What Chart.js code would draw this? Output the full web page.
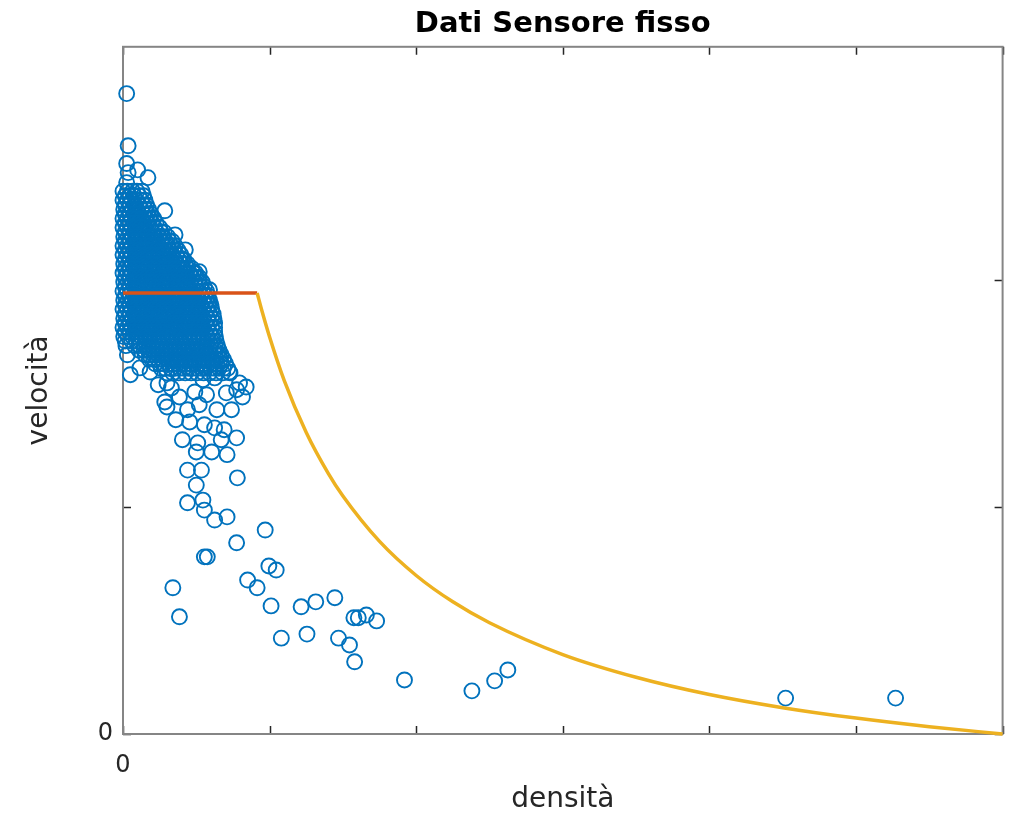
<!DOCTYPE html>
<html>
<head>
<meta charset="utf-8">
<script src="https://cdn.jsdelivr.net/npm/chart.js@4"></script>
<style>
  html, body { margin: 0; padding: 0; background: #fff; overflow: hidden; }
  canvas { display: block; }
</style>
</head>
<body>
<canvas id="chart" width="1012" height="821"></canvas>
<script>
// Axis ticks (only the 0 labels are printed, like the original figure)
const xTicks = [0, 20, 40, 60, 80, 100, 120];
const yTicks = [0, 50, 100];
const yMax = 151.3;

// Dense cloud of measurements, one row per speed level
const blobSpeed = [119.5, 118.5, 117.5, 116.5, 115.5, 114.5, 113.5, 112.5, 111.5, 110.5,
  109.5, 108.5, 107.5, 106.5, 105.5, 104.5, 103.5, 102.5, 101.5, 100.5,
  99.5, 98.5, 97.5, 96.5, 95.5, 94.5, 93.5, 92.5, 91.5, 90.5,
  89.5, 88.5, 87.5, 86.5, 85.5, 84.5, 83.5, 82.5, 81.5, 80.5, 79.5];
const blobDensity = [
  [0.0, 0.6, 1.3, 1.9, 2.6],
  [0.3, 0.9, 1.5, 2.2, 2.8],
  [0.0, 0.6, 1.2, 1.8, 2.5, 3.0],
  [0.3, 0.9, 1.6, 2.2, 2.8, 3.2],
  [0.1, 0.7, 1.3, 1.9, 2.5, 3.1, 3.5],
  [0.3, 0.9, 1.5, 2.1, 2.8, 3.4, 3.8],
  [0.0, 0.6, 1.2, 1.9, 2.5, 3.1, 3.7, 4.2],
  [0.3, 0.9, 1.5, 2.1, 2.7, 3.3, 4.0, 4.5],
  [0.0, 0.6, 1.2, 1.8, 2.4, 3.0, 3.7, 4.3, 5.0],
  [0.3, 0.9, 1.5, 2.2, 2.8, 3.4, 4.0, 4.6, 5.2, 5.6],
  [0.1, 0.7, 1.3, 1.9, 2.5, 3.1, 3.7, 4.3, 4.9, 5.5, 6.1],
  [0.3, 0.9, 1.6, 2.2, 2.8, 3.4, 4.0, 4.6, 5.2, 5.8, 6.3, 6.7],
  [0.0, 0.6, 1.2, 1.8, 2.4, 3.1, 3.7, 4.3, 4.9, 5.5, 6.1, 6.6, 7.1],
  [0.3, 0.9, 1.5, 2.1, 2.7, 3.3, 3.9, 4.6, 5.2, 5.8, 6.4, 7.0, 7.5],
  [0.0, 0.6, 1.2, 1.8, 2.5, 3.1, 3.7, 4.3, 4.9, 5.5, 6.1, 6.7, 7.3, 7.9],
  [0.3, 0.9, 1.5, 2.1, 2.7, 3.3, 4.0, 4.6, 5.2, 5.8, 6.4, 7.0, 7.6, 8.0, 8.3],
  [0.1, 0.7, 1.3, 1.9, 2.5, 3.1, 3.7, 4.3, 4.9, 5.5, 6.2, 6.8, 7.4, 8.0, 8.5, 8.8],
  [0.3, 0.9, 1.5, 2.2, 2.8, 3.4, 4.0, 4.6, 5.2, 5.8, 6.4, 7.0, 7.6, 8.2, 8.8, 9.4],
  [0.0, 0.6, 1.2, 1.8, 2.4, 3.0, 3.7, 4.3, 4.9, 5.5, 6.1, 6.7, 7.3, 7.9, 8.5, 9.1, 9.6, 9.9],
  [0.3, 0.9, 1.5, 2.1, 2.7, 3.3, 3.9, 4.5, 5.2, 5.8, 6.4, 7.0, 7.6, 8.2, 8.8, 9.4, 10.0, 10.4],
  [0.1, 0.7, 1.3, 1.9, 2.5, 3.1, 3.7, 4.3, 4.9, 5.5, 6.1, 6.7, 7.4, 8.0, 8.6, 9.2, 9.8, 10.4, 10.8],
  [0.3, 0.9, 1.5, 2.1, 2.7, 3.4, 4.0, 4.6, 5.2, 5.8, 6.4, 7.0, 7.6, 8.2, 8.8, 9.4, 10.0, 10.6, 11.1],
  [0.0, 0.6, 1.2, 1.8, 2.4, 3.0, 3.6, 4.2, 4.9, 5.5, 6.1, 6.7, 7.3, 7.9, 8.5, 9.1, 9.7, 10.3, 10.9, 11.4],
  [0.3, 0.9, 1.5, 2.1, 2.7, 3.3, 3.9, 4.5, 5.1, 5.7, 6.4, 7.0, 7.6, 8.2, 8.8, 9.4, 10.0, 10.6, 11.2, 11.6],
  [0.1, 0.7, 1.3, 1.9, 2.5, 3.1, 3.7, 4.3, 4.9, 5.5, 6.1, 6.7, 7.3, 7.9, 8.5, 9.2, 9.8, 10.4, 11.0, 11.5, 11.8],
  [0.3, 0.9, 1.5, 2.1, 2.7, 3.3, 3.9, 4.6, 5.2, 5.8, 6.4, 7.0, 7.6, 8.2, 8.8, 9.4, 10.0, 10.6, 11.2, 11.7, 12.0],
  [0.0, 0.6, 1.2, 1.8, 2.4, 3.0, 3.6, 4.2, 4.8, 5.4, 6.1, 6.7, 7.3, 7.9, 8.5, 9.1, 9.7, 10.3, 10.9, 11.5, 12.1],
  [0.3, 0.9, 1.5, 2.1, 2.7, 3.3, 3.9, 4.5, 5.1, 5.7, 6.3, 6.9, 7.6, 8.2, 8.8, 9.4, 10.0, 10.6, 11.2, 11.8, 12.3],
  [0.1, 0.7, 1.3, 1.9, 2.5, 3.1, 3.7, 4.3, 4.9, 5.5, 6.1, 6.7, 7.3, 7.9, 8.5, 9.1, 9.7, 10.4, 11.0, 11.6, 12.1, 12.4],
  [0.3, 0.9, 1.5, 2.1, 2.7, 3.3, 3.9, 4.5, 5.1, 5.8, 6.4, 7.0, 7.6, 8.2, 8.8, 9.4, 10.0, 10.6, 11.2, 11.8, 12.5],
  [0.0, 0.6, 1.2, 1.8, 2.4, 3.0, 3.6, 4.2, 4.8, 5.4, 6.0, 6.6, 7.2, 7.9, 8.5, 9.1, 9.7, 10.3, 10.9, 11.5, 12.1, 12.5],
  [0.3, 0.9, 1.5, 2.1, 2.7, 3.3, 3.9, 4.5, 5.1, 5.7, 6.3, 6.9, 7.5, 8.1, 8.7, 9.3, 10.0, 10.6, 11.2, 11.8, 12.5],
  [0.1, 0.7, 1.3, 1.9, 2.5, 3.1, 3.7, 4.3, 4.9, 5.5, 6.1, 6.7, 7.3, 7.9, 8.5, 9.1, 9.7, 10.3, 10.9, 11.5, 12.1, 12.6],
  [0.3, 1.2, 1.8, 2.4, 3.0, 3.6, 4.2, 4.8, 5.4, 6.1, 6.7, 7.3, 7.9, 8.5, 9.1, 9.7, 10.3, 10.9, 11.5, 12.1, 12.7],
  [0.4, 1.6, 2.3, 2.9, 3.5, 4.1, 4.7, 5.3, 5.9, 6.5, 7.1, 7.7, 8.3, 8.9, 9.5, 10.2, 10.8, 11.4, 12.0, 12.6, 12.9],
  [2.2, 2.9, 3.5, 4.1, 4.7, 5.3, 5.9, 6.5, 7.1, 7.7, 8.3, 8.9, 9.5, 10.1, 10.7, 11.3, 11.9, 12.5, 13.1],
  [0.6, 3.0, 3.6, 4.2, 4.8, 5.4, 6.0, 6.6, 7.2, 7.8, 8.4, 9.0, 9.6, 10.2, 10.8, 11.4, 12.0, 12.6, 13.1, 13.4],
  [3.6, 4.2, 4.8, 5.4, 6.0, 6.6, 7.3, 7.9, 8.5, 9.1, 9.7, 10.3, 10.9, 11.5, 12.1, 12.7, 13.3, 13.7],
  [4.4, 5.0, 5.6, 6.2, 6.8, 7.4, 8.0, 8.6, 9.2, 9.8, 10.4, 11.0, 11.6, 12.2, 12.8, 13.4, 14.0],
  [5.2, 5.8, 6.5, 7.1, 7.7, 8.3, 8.9, 9.5, 10.1, 10.7, 11.3, 11.9, 12.5, 13.1, 13.7, 14.3],
  [6.0, 6.8, 7.6, 8.5, 9.3, 10.1, 11.0, 11.8, 12.7, 13.6, 14.6]
];

// Scattered measurements outside the cloud
const outDensity = [0.5, 0.7, 0.5, 0.7, 2.0, 3.4, 0.5, 5.7, 5.4, 7.1, 8.5, 10.4, 11.8,
  1.0, 2.3, 3.7, 4.8, 6.0, 6.6, 9.8, 11.4, 10.9, 12.5, 14.1, 14.5, 15.9,
  5.7, 6.0, 7.7, 8.8, 9.1, 8.1, 10.2, 10.0, 8.8, 10.7, 10.0, 8.8, 10.9, 11.1, 12.5, 14.2,
  15.5, 15.6, 11.5, 11.1, 6.8, 7.7, 16.3, 15.5, 16.8, 12.8, 14.8, 12.5, 13.4, 15.5, 13.8,
  10.4, 7.2, 11.1, 12.1, 14.2, 19.4, 19.9, 20.9, 17.0, 18.3, 20.2, 24.3, 26.3, 28.9,
  21.6, 25.1, 29.4, 30.9, 31.5, 32.1, 33.2, 34.6, 31.6, 38.4, 47.6, 50.7, 52.5, 90.4, 105.4];
const outSpeed = [141.0, 129.5, 125.6, 123.6, 124.2, 122.5, 121.4, 115.2, 109.3, 109.9, 106.6, 101.8, 97.8,
  79.1, 80.6, 79.7, 76.9, 77.3, 76.2, 75.3, 74.7, 78.0, 78.4, 75.1, 79.7, 77.3,
  73.1, 72.0, 74.2, 71.4, 68.7, 64.8, 64.1, 62.1, 58.1, 58.1, 54.8, 50.9, 51.5, 49.3, 47.1, 47.8,
  42.1, 56.4, 39.0, 39.0, 32.2, 25.8, 74.2, 75.8, 76.4, 71.4, 71.4, 67.4, 64.8, 65.2, 67.0,
  72.5, 69.2, 68.1, 62.1, 61.5, 44.9, 37.0, 36.1, 33.9, 32.2, 28.2, 28.0, 29.1, 30.0,
  21.1, 22.0, 21.1, 19.6, 25.6, 25.6, 26.2, 24.9, 15.9, 11.9, 9.5, 11.7, 14.1, 7.9, 7.9];

// Model: free-flow branch and congested branch
const flatDensity = [0, 18.3];
const flatSpeed = [97.1, 97.1];
const curveDensity = [18.3, 19, 20, 22, 25, 28, 30, 35, 40, 45, 50, 60, 70, 80, 90, 100, 110, 120];
const curveSpeed = [97.1, 92.9, 87.4, 77.8, 66.4, 57.4, 52.4, 42.4, 34.9, 29.1, 24.5, 17.5, 12.5, 8.7, 5.8, 3.5, 1.6, 0];

const scatterPoints = [];
blobSpeed.forEach((v, i) => {
  blobDensity[i].forEach(d => scatterPoints.push({ x: d, y: v }));
});
outDensity.forEach((d, i) => scatterPoints.push({ x: d, y: outSpeed[i] }));

const toXY = (xs, ys) => xs.map((x, i) => ({ x: x, y: ys[i] }));

// MATLAB style box with inward ticks on all four sides
const boxPlugin = {
  id: 'box',
  beforeDatasetsDraw(chart) {
    const { ctx, chartArea: a, scales: { x, y } } = chart;
    const len = 8;
    ctx.save();
    ctx.strokeStyle = '#262626';
    ctx.lineWidth = 1.5;
    ctx.beginPath();
    x.ticks.forEach(t => {
      const px = Math.round(x.getPixelForValue(t.value)) + 0.5;
      ctx.moveTo(px, a.bottom); ctx.lineTo(px, a.bottom - len);
      ctx.moveTo(px, a.top); ctx.lineTo(px, a.top + len);
    });
    y.ticks.forEach(t => {
      const py = Math.round(y.getPixelForValue(t.value)) + 0.5;
      ctx.moveTo(a.left, py); ctx.lineTo(a.left + len, py);
      ctx.moveTo(a.right, py); ctx.lineTo(a.right - len, py);
    });
    ctx.stroke();
    ctx.strokeStyle = '#858585';
    ctx.lineWidth = 2;
    ctx.strokeRect(a.left, a.top, a.right - a.left, a.bottom - a.top);
    ctx.restore();
  }
};

const labelFont = { family: 'DejaVu Sans', size: 28 };
const tickFont = { family: 'DejaVu Sans', size: 24 };

new Chart(document.getElementById('chart'), {
  type: 'scatter',
  data: {
    datasets: [
      {
        data: scatterPoints,
        pointStyle: 'circle',
        pointRadius: 7.5,
        pointBorderWidth: 1.9,
        borderColor: '#0072BD',
        backgroundColor: 'rgba(0,0,0,0)',
        showLine: false,
        clip: false,
        order: 3
      },
      {
        data: toXY(flatDensity, flatSpeed),
        showLine: true,
        borderColor: '#D95319',
        borderWidth: 3.5,
        pointRadius: 0,
        order: 2
      },
      {
        data: toXY(curveDensity, curveSpeed),
        showLine: true,
        borderColor: '#EDB120',
        borderWidth: 3.5,
        pointRadius: 0,
        cubicInterpolationMode: 'monotone',
        clip: false,
        order: 1
      }
    ]
  },
  options: {
    responsive: false,
    animation: false,
    devicePixelRatio: 1,
    layout: { padding: { left: 0, right: 4, top: 0, bottom: 0 } },
    plugins: {
      legend: { display: false },
      tooltip: { enabled: false },
      title: {
        display: true,
        text: 'Dati Sensore fisso',
        fullSize: false,
        color: '#000',
        font: { family: 'DejaVu Sans', size: 29, weight: 'bold' },
        padding: { top: 7, bottom: 5 }
      }
    },
    scales: {
      x: {
        type: 'linear',
        min: 0,
        max: 120,
        afterBuildTicks: s => { s.ticks = xTicks.map(v => ({ value: v })); },
        afterFit: s => { s.height = 87; s.paddingLeft = 0; s.paddingRight = 0; },
        grid: { display: false, drawTicks: false },
        border: { display: false },
        ticks: {
          callback: v => (v === 0 ? '0' : ''),
          // tall line box pushes the single "0" label down instead of tick padding
          font: { family: 'DejaVu Sans', size: 24, lineHeight: '62.8px' },
          color: '#262626',
          padding: 0,
          maxRotation: 0,
          autoSkip: false
        },
        title: { display: true, text: 'densità', font: labelFont, color: '#262626', padding: { top: 0, bottom: 4 } }
      },
      y: {
        type: 'linear',
        min: 0,
        max: yMax,
        afterBuildTicks: s => { s.ticks = yTicks.map(v => ({ value: v })); },
        afterFit: s => { s.width = 123; s.paddingTop = 0; s.paddingBottom = 0; },
        grid: { display: false, drawTicks: false },
        border: { display: false },
        ticks: {
          callback: v => (v === 0 ? '0' : ''),
          font: tickFont,
          color: '#262626',
          padding: 10,
          autoSkip: false
        },
        title: { display: true, text: 'velocità', font: labelFont, color: '#262626', padding: { top: 23, bottom: 0 } }
      }
    }
  },
  plugins: [boxPlugin]
});
</script>
</body>
</html>
